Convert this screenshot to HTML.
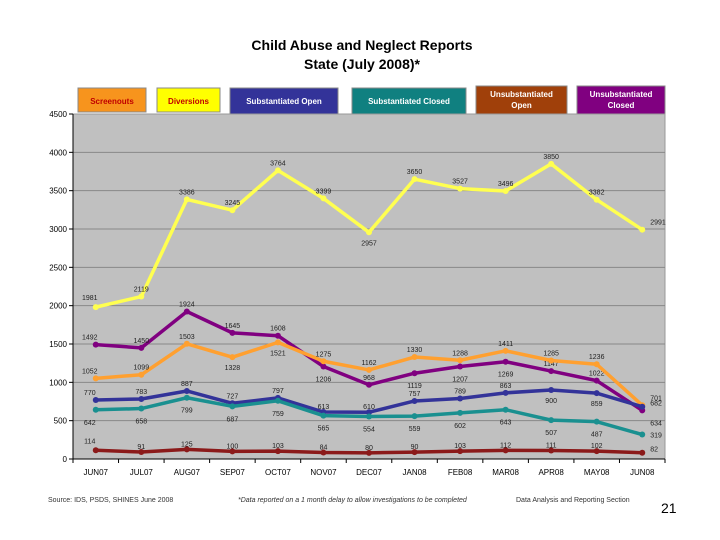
<!DOCTYPE html>
<html><head><meta charset="utf-8"><style>
body{margin:0;background:#fff;width:720px;height:540px;overflow:hidden;font-family:"Liberation Sans",sans-serif}
</style></head><body>
<svg width="720" height="540" style="position:absolute;left:0;top:0;font-family:'Liberation Sans',sans-serif">
<text x="362" y="50" text-anchor="middle" font-size="14" font-weight="bold">Child Abuse and Neglect Reports</text>
<text x="362" y="69" text-anchor="middle" font-size="14" font-weight="bold">State (July 2008)*</text>
<g id="legend"></g>
<rect x="73" y="114" width="592" height="345" fill="#c0c0c0" stroke="#999"/>
<g id="grid"></g><g id="axes"></g><g id="series"></g>
<text x="48" y="502" font-size="7" fill="#333">Source:  IDS, PSDS, SHINES June 2008</text>
<text x="238" y="502" font-size="7" font-style="italic" fill="#333">*Data reported on a 1 month delay to allow investigations to be completed</text>
<text x="516" y="502" font-size="7" fill="#333">Data Analysis and Reporting Section</text>
<text x="661" y="513" font-size="14">21</text>
</svg>
<script>
const categories=["JUN07","JUL07","AUG07","SEP07","OCT07","NOV07","DEC07","JAN08","FEB08","MAR08","APR08","MAY08","JUN08"];
const yTicks=[0,500,1000,1500,2000,2500,3000,3500,4000,4500];
const screenouts=[1052,1099,1503,1328,1521,1275,1162,1330,1288,1411,1285,1236,701];
const diversions=[1981,2119,3386,3245,3764,3399,2957,3650,3527,3496,3850,3382,2991];
const subOpen=[770,783,887,727,797,613,610,757,789,863,900,859,682];
const subClosed=[642,658,799,687,759,565,554,559,602,643,507,487,319];
const unsubOpen=[114,91,125,100,103,84,80,90,103,112,111,102,82];
const unsubClosed=[1492,1450,1924,1645,1608,1206,968,1119,1207,1269,1147,1022,634];
const NS="http://www.w3.org/2000/svg";
const x0=73,x1=665,yTop=114,yBot=459,yMax=4500;
const step=(x1-x0)/categories.length;
function xs(i){return x0+step*(i+0.5);}
function ys(v){return yBot-(v/yMax)*(yBot-yTop);}
function mk(tag,attrs,parent,text){const e=document.createElementNS(NS,tag);for(const k in attrs)e.setAttribute(k,attrs[k]);if(text!==undefined)e.textContent=text;document.getElementById(parent).appendChild(e);return e;}
yTicks.forEach(t=>{
 if(t>0&&t<4500){const g=mk('line',{x1:x0,x2:x1,y1:ys(t),y2:ys(t),stroke:'#888','stroke-width':1},'grid');
 
 }
 const tk=mk('line',{x1:x0-4,x2:x0,y1:ys(t),y2:ys(t),stroke:'#000'},'axes');
 
 
 const l=mk('text',{x:x0-6,y:ys(t)+3,'text-anchor':'end','font-size':8},'axes',t);
 
 
});
const ax=mk('line',{x1:x0,x2:x1,y1:yBot,y2:yBot,stroke:'#000'},'axes');


const ay=mk('line',{x1:x0,x2:x0,y1:yTop,y2:yBot,stroke:'#000'},'axes');


for(let i=0;i<=categories.length;i++){const t=mk('line',{x1:x0+step*i,x2:x0+step*i,y1:yBot,y2:yBot+4,stroke:'#000'},'axes');
 
 }
categories.forEach((c,i)=>{const l=mk('text',{x:xs(i),y:yBot+16,'text-anchor':'middle','font-size':8},'axes',c);
 
 });
const series=[
 {n:'diversions',d:diversions,c:'#ffff50',off:[-10,-8,-8,-8,-8,-8,10,-8,-8,-8,-8,-8,-8]},
 {n:'unsub-closed',d:unsubClosed,c:'#800080',off:[-8,-8,-8,-8,-8,12,-8,12,12,12,-8,-8,12]},
 {n:'screenouts',d:screenouts,c:'#ffa030',off:[-8,-8,-8,10,10,-8,-8,-8,-8,-8,-8,-8,-8]},
 {n:'sub-open',d:subOpen,c:'#333399',off:[-8,-8,-8,-8,-8,-6,-6,-8,-8,-8,10,10,-4]},
 {n:'sub-closed',d:subClosed,c:'#1a9090',off:[12,12,12,12,12,12,12,12,12,12,12,12,0]},
 {n:'unsub-open',d:unsubOpen,c:'#8b1a1a',off:[-10,-6,-6,-6,-6,-6,-6,-6,-6,-6,-6,-6,-4]}
];
series.forEach(s=>{
 const pts=s.d.map((v,i)=>xs(i)+','+ys(v)).join(' ');
 const p=mk('polyline',{points:pts,fill:'none',stroke:s.c,'stroke-width':3.5,'stroke-linejoin':'round'},'series');
 
 
 s.d.forEach((v,i)=>{
  const m=mk('circle',{cx:xs(i),cy:ys(v),r:3,fill:s.c},'series');
  
  
  const last=i===categories.length-1;
  const lx=i===0?xs(i)-6:(last?xs(i)+8:xs(i));
  const l=mk('text',{x:lx,y:ys(v)+s.off[i]+3,'text-anchor':last?'start':'middle','font-size':7,fill:'#222'},'series',v);
  
  
 });
});
const leg=[
 ['Screenouts','#f7941d','#c00000',78,146,88,112],
 ['Diversions','#ffff00','#c00000',157,220,88,112],
 ['Substantiated Open','#333399','#fff',230,338,88,114],
 ['Substantiated Closed','#108080','#fff',352,466,88,114],
 ['Unsubstantiated Open','#a0400a','#fff',476,567,86,114],
 ['Unsubstantiated Closed','#800080','#fff',577,665,86,114]
];
leg.forEach(L=>{
 const r=mk('rect',{x:L[3],y:L[5],width:L[4]-L[3],height:L[6]-L[5],fill:L[1],stroke:'#888'},'legend');
 
 
 const cx=(L[3]+L[4])/2;
 const words=L[0].startsWith('Unsub')?['Unsubstantiated',L[0].split(' ')[1]]:[L[0]];
 words.forEach((w,k)=>{
  const t=mk('text',{x:cx,y:words.length>1?L[5]+11+k*11:L[5]+16,'text-anchor':'middle','font-size':8,'font-weight':'bold',fill:L[2]},'legend',w);
  
  
 });
});
</script>
</body></html>
